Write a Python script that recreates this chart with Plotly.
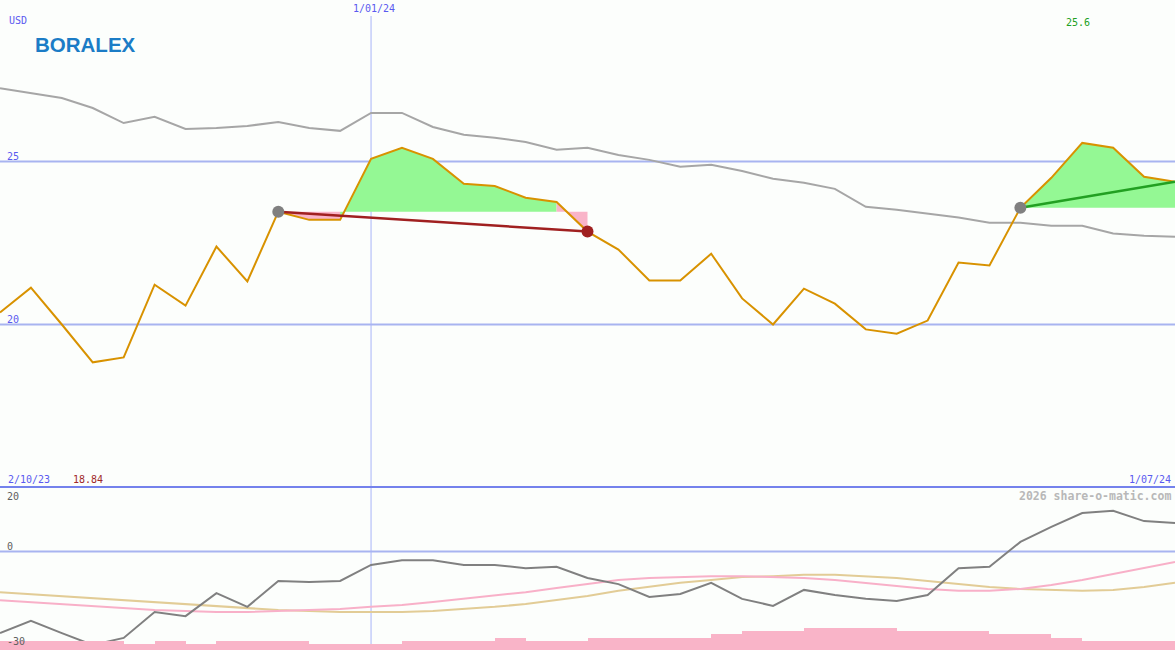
import plotly.graph_objects as go
import pandas as pd

# ---------------- data ----------------
dates = pd.date_range("2023-10-09", periods=39, freq="7D")

price = [20.37, 21.13, 20.00, 18.84, 18.99, 21.22, 20.58, 22.39, 21.32, 23.46,
         23.21, 23.21, 25.08, 25.42, 25.08, 24.32, 24.25, 23.89, 23.76, 22.85,
         22.30, 21.35, 21.35, 22.17, 20.80, 20.00, 21.10, 20.64, 19.85, 19.72,
         20.12, 21.90, 21.81, 23.58, 24.50, 25.57, 25.42, 24.53, 24.38]

moving_avg = [27.25, 27.10, 26.95, 26.64, 26.18, 26.37, 26.00, 26.03, 26.09, 26.21,
              26.03, 25.94, 26.49, 26.49, 26.06, 25.82, 25.73, 25.60, 25.36, 25.42,
              25.20, 25.05, 24.84, 24.90, 24.71, 24.47, 24.35, 24.16, 23.61, 23.52,
              23.40, 23.28, 23.12, 23.12, 23.03, 23.03, 22.79, 22.72, 22.69]

momentum = [-25.5, -21.7, -25.5, -29.2, -27.0, -18.9, -20.2, -13.0, -17.3, -9.2,
            -9.5, -9.2, -4.2, -2.7, -2.7, -4.2, -4.2, -5.2, -4.8, -8.3,
            -10.2, -14.2, -13.3, -9.8, -14.8, -17.0, -12.0, -13.6, -14.8, -15.5,
            -13.6, -5.2, -4.8, 3.0, 7.7, 12.0, 12.7, 9.5, 8.9]

signal_pink = [-15.2, -15.8, -16.4, -17.0, -17.7, -18.3, -18.6, -18.9, -18.9, -18.6,
               -18.3, -18.0, -17.3, -16.7, -15.8, -14.8, -13.9, -12.7, -11.4, -10.2,
               -8.9, -8.3, -8.0, -7.7, -7.7, -8.0, -8.3, -8.9, -9.8, -10.8,
               -11.7, -12.3, -12.3, -11.7, -10.5, -8.9, -7.0, -5.2, -3.3]

signal_tan = [-12.7, -13.3, -13.9, -14.5, -15.2, -15.8, -16.4, -17.0, -17.7, -18.3,
              -18.6, -18.9, -18.9, -18.9, -18.6, -18.0, -17.3, -16.4, -15.2, -13.9,
              -12.3, -11.1, -9.8, -8.9, -8.0, -7.7, -7.3, -7.3, -7.7, -8.3,
              -9.2, -10.2, -11.1, -11.7, -12.0, -12.3, -12.0, -11.1, -9.8]

volume = [90, 90, 90, 90, 60, 90, 60, 90, 90, 90,
          60, 60, 60, 90, 90, 90, 120, 90, 90, 120,
          120, 120, 120, 160, 190, 190, 220, 220, 220, 190,
          190, 190, 160, 160, 120, 90, 90, 90]

trade_closed = (9, 19)   # entry index, exit index
trade_open = (33, 38)
marker_date = "2024-01-01"

label_start = "2/10/23"
label_end = "1/07/24"
label_mid = "1/01/24"
label_max = "25.6"
label_min = "18.84"
upper_ticks = [20, 25]
lower_ticks = [20, 0, -30]

# ---------------- styling ----------------
W, H = 1175, 650
BG = "#fcfefc"
BLUE_TXT = "#5a5af0"
GRID = "#a8b4f0"
PINK = "#f9b4c8"
GREEN_FILL = "#94f894"

up_top, up_bot = 29.954, 15.015
lo_top, lo_bot = 19.84, -30.78
sep_px = 487


def px(x):
    return x / W


def py(y):
    return 1 - y / H


fig = go.Figure()

# ---------- fills between price and trade entry level ----------
def add_fill(i0, i1, level, color):
    xs = list(dates[i0:i1 + 1]) + [dates[i1], dates[i0]]
    ys = list(price[i0:i1 + 1]) + [level, level]
    fig.add_trace(go.Scatter(x=xs, y=ys, mode="lines", fill="toself",
                             fillcolor=color, line=dict(width=0),
                             hoverinfo="skip", showlegend=False,
                             xaxis="x", yaxis="y"))


def fill_trade(entry, exit_):
    level = price[entry]
    seg_start = entry
    cur = None
    for i in range(entry, exit_):
        c = GREEN_FILL if price[i + 1] > level else PINK
        if cur is None:
            cur = c
        elif c != cur:
            add_fill(seg_start, i, level, cur)
            seg_start = i
            cur = c
    add_fill(seg_start, exit_, level, cur)


fill_trade(*trade_closed)
fill_trade(*trade_open)

# ---------- upper panel lines ----------
fig.add_trace(go.Scatter(x=dates, y=moving_avg, mode="lines",
                         line=dict(color="#a6a6a6", width=2),
                         showlegend=False, xaxis="x", yaxis="y"))
fig.add_trace(go.Scatter(x=dates, y=price, mode="lines",
                         line=dict(color="#d89200", width=2),
                         showlegend=False, xaxis="x", yaxis="y"))

e, x_ = trade_closed
fig.add_trace(go.Scatter(x=[dates[e], dates[x_]], y=[price[e], price[x_]], mode="lines",
                         line=dict(color="#a02020", width=2.5),
                         showlegend=False, xaxis="x", yaxis="y"))
e2, x2 = trade_open
fig.add_trace(go.Scatter(x=[dates[e2], dates[x2]], y=[price[e2], price[x2]], mode="lines",
                         line=dict(color="#22a022", width=2.5),
                         showlegend=False, xaxis="x", yaxis="y"))
fig.add_trace(go.Scatter(x=[dates[e], dates[e2]], y=[price[e], price[e2]], mode="markers",
                         marker=dict(color="#808080", size=12, line=dict(width=0)),
                         showlegend=False, xaxis="x", yaxis="y"))
fig.add_trace(go.Scatter(x=[dates[x_]], y=[price[x_]], mode="markers",
                         marker=dict(color="#a02020", size=12, line=dict(width=0)),
                         showlegend=False, xaxis="x", yaxis="y"))

# ---------- lower panel ----------
fig.add_trace(go.Bar(x=dates[:-1], y=volume, width=7 * 24 * 3600 * 1000, offset=0,
                     marker=dict(color=PINK, line=dict(width=0)),
                     showlegend=False, xaxis="x2", yaxis="y3"))
fig.add_trace(go.Scatter(x=dates, y=signal_tan, mode="lines",
                         line=dict(color="#e2cc96", width=2),
                         showlegend=False, xaxis="x2", yaxis="y2"))
fig.add_trace(go.Scatter(x=dates, y=signal_pink, mode="lines",
                         line=dict(color="#f8b0c8", width=2),
                         showlegend=False, xaxis="x2", yaxis="y2"))
fig.add_trace(go.Scatter(x=dates, y=momentum, mode="lines",
                         line=dict(color="#808080", width=2),
                         showlegend=False, xaxis="x2", yaxis="y2"))

# ---------- axes ----------
ax_common = dict(showgrid=False, zeroline=False, showticklabels=False,
                 showline=False, ticks="")
fig.update_layout(
    width=W, height=H,
    margin=dict(l=0, r=0, t=0, b=0),
    paper_bgcolor=BG, plot_bgcolor=BG,
    showlegend=False,
    bargap=0,
    xaxis=dict(range=[dates[0], dates[-1]], domain=[0, 1], anchor="y", **ax_common),
    xaxis2=dict(range=[dates[0], dates[-1]], domain=[0, 1], anchor="y2",
                matches="x", **ax_common),
    yaxis=dict(range=[up_bot, up_top], domain=[1 - sep_px / H, 1], **ax_common),
    yaxis2=dict(range=[lo_bot, lo_top], domain=[0, 1 - (sep_px + 1) / H], **ax_common),
    yaxis3=dict(range=[0, 1620], overlaying="y2", **ax_common),
)

# ---------- shapes ----------
shapes = []
for t in upper_ticks:
    shapes.append(dict(type="line", xref="paper", yref="y", x0=0, x1=1, y0=t, y1=t,
                       line=dict(color=GRID, width=2), layer="below"))
shapes.append(dict(type="line", xref="paper", yref="y2", x0=0, x1=1, y0=0, y1=0,
                   line=dict(color=GRID, width=2), layer="below"))
shapes.append(dict(type="line", xref="x", yref="paper", x0=marker_date, x1=marker_date,
                   y0=0, y1=py(16), line=dict(color="#a8b4f8", width=1), layer="below"))
shapes.append(dict(type="line", xref="paper", yref="paper", x0=0, x1=1,
                   y0=py(sep_px), y1=py(sep_px), line=dict(color="#7482ec", width=2)))
fig.update_layout(shapes=shapes)

# ---------- text ----------
MONO = "DejaVu Sans Mono"


def label(text, x, y, color, anchor="left", size=10, family=MONO):
    fig.add_annotation(text=text, x=px(x), y=py(y), xref="paper", yref="paper",
                       xanchor=anchor, yanchor="middle", showarrow=False,
                       font=dict(family=family, size=size, color=color))


label("USD", 7, 20, BLUE_TXT)
label(str(upper_ticks[1]), 5, 156, BLUE_TXT)
label(str(upper_ticks[0]), 5, 319, BLUE_TXT)
label(label_mid, 374, 9, BLUE_TXT, anchor="center")
label(label_max, 1064, 22, "#22a022")
label(label_start, 6, 479, BLUE_TXT)
label(label_min, 71, 479, "#a02828")
label(label_end, 1173, 479, BLUE_TXT, anchor="right")
label("<b>2026 share-o-matic.com</b>", 1173, 496, "#b8b8b8", anchor="right", size=11.5)
label(str(lower_ticks[0]), 5, 496, "#606060")
label(str(lower_ticks[1]), 5, 546, "#606060")
label(str(lower_ticks[2]), 5, 641, "#606060")
label("<b>BORALEX</b>", 33, 44, "#1b7cc6", size=20.5, family="Liberation Sans")

fig.write_html("out.html",
               config={"displayModeBar": False},
               post_script="document.body.style.margin='0';"
                           "document.body.style.overflow='hidden';")
